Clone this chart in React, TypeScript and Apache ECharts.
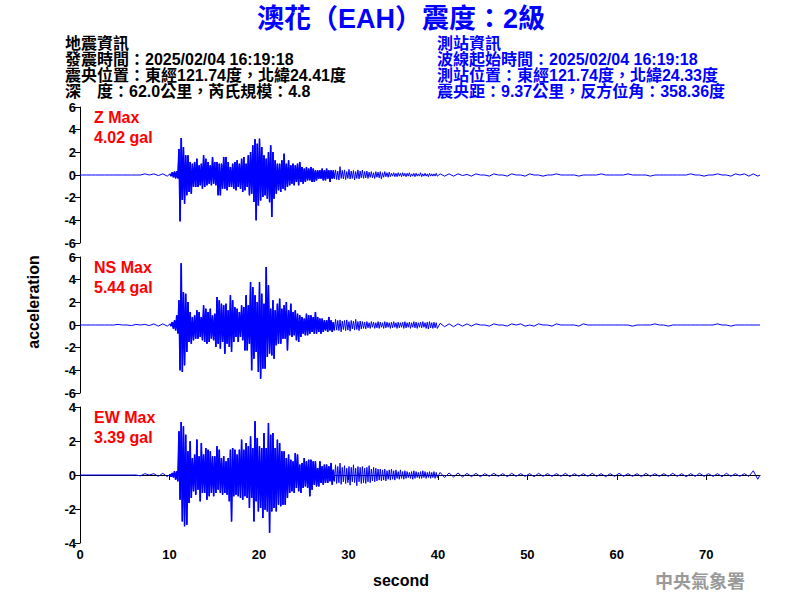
import React, { useEffect, useRef } from "react";
import * as echarts from "echarts";

// ---- axis / tick data ----
const X_MAX = 76;
const xTicks = [0, 10, 20, 30, 40, 50, 60, 70];
const PRE_START = 0;
const PRE_STEP = 1;
const MAIN_START = 10;
const MAIN_STEP = 0.25;
const MID_START = 28.5;
const MID_STEP = 0.25;
const TAIL_START = 40;
const TAIL_STEP = 1;

// ---- texts ----
const titleText = "澳花（EAH）震度：2級";
const quakeInfo = [
  "地震資訊",
  "發震時間：2025/02/04 16:19:18",
  "震央位置：東經121.74度，北緯24.41度",
  "深　度：62.0公里，芮氏規模：4.8",
];
const stationInfo = [
  "測站資訊",
  "波線起始時間：2025/02/04 16:19:18",
  "測站位置：東經121.74度，北緯24.33度",
  "震央距：9.37公里，反方位角：358.36度",
];
const channelNames = ["Z Max", "NS Max", "EW Max"];
const channelMax = ["4.02 gal", "5.44 gal", "3.39 gal"];

// ---- Z component (gal): max / min per time bin ----
const zPreHi = [0, 0, 0, 0, 0, 0, 0, 0.1, 0.1, 0.1];
const zPreLo = [0, 0, 0, 0, 0, 0, 0, 0, -0.05, -0.1];
const zHi = [0.1, 0.25, 0.3, 0.35, 2.3, 3.26, 2.47, 1.74, 1.74, 1.15, 1.0, 1.15, 1.44, 0.85, 1.0, 1.74, 1.44, 1.15, 0.85, 1.59, 1.15, 1.15, 1.0, 1.0, 1.59, 1.59, 1.15, 0.71, 1.0, 1.15, 1.29, 1.0, 1.44, 1.59, 1.0, 1.74, 2.03, 2.62, 3.15, 2.76, 3.2, 2.47, 1.74, 1.44, 2.03, 2.62, 2.03, 1.29, 1.0, 1.0, 1.29, 1.88, 1.0, 1.29, 0.85, 1.0, 0.85, 1.0, 1.15, 0.71, 0.56, 0.71, 0.56, 0.71, 0.56, 0.41, 0.41, 0.41, 0.56, 0.41, 0.56, 0.41, 0.41, 0.41];
const zLo = [-0.1, -0.2, -0.3, -0.3, -4.09, -2.2, -2.53, -1.79, -1.5, -1.65, -1.06, -1.06, -1.06, -0.91, -1.21, -1.06, -0.91, -0.76, -0.91, -0.76, -0.91, -1.79, -1.79, -1.21, -1.21, -1.35, -1.06, -1.06, -1.21, -1.35, -1.06, -1.21, -1.5, -1.35, -1.06, -1.79, -1.65, -2.38, -4.0, -2.68, -2.24, -1.94, -1.79, -2.09, -2.4, -3.71, -2.09, -1.65, -1.35, -1.5, -1.21, -1.35, -1.06, -0.91, -0.76, -0.91, -0.62, -0.91, -0.62, -0.76, -0.62, -0.47, -0.47, -0.62, -0.62, -0.47, -0.32, -0.32, -0.47, -0.47, -0.32, -0.62, -0.32, -0.32];
const zMidHi = [0.45, 0.35, 0.74, 0.4, 0.45, 0.3, 0.5, 0.35, 0.4, 0.3, 0.45, 0.35, 0.44, 0.3, 0.35, 0.25, 0.3, 0.2, 0.3, 0.25, 0.3, 0.2, 0.3, 0.2, 0.25, 0.15, 0.2, 0.15, 0.2, 0.15, 0.2, 0.15, 0.15, 0.2, 0.1, 0.15, 0.15, 0.1, 0.2, 0.1, 0.15, 0.1, 0.15, 0.1, 0.1, 0.15];
const zMidLo = [-0.4, -0.44, -0.3, -0.35, -0.4, -0.3, -0.35, -0.3, -0.44, -0.3, -0.35, -0.25, -0.3, -0.25, -0.3, -0.2, -0.25, -0.3, -0.2, -0.25, -0.35, -0.2, -0.15, -0.2, -0.15, -0.1, -0.15, -0.15, -0.1, -0.15, -0.1, -0.15, -0.1, -0.15, -0.1, -0.15, -0.1, -0.1, -0.15, -0.1, -0.1, -0.15, -0.1, -0.1, -0.1, -0.1];
const zTailHi = [0.1, 0.1, 0.1, 0.05, 0.1, 0, 0.1, 0, 0.1, 0, 0.1, 0, 0, 0.1, 0, 0, 0, 0, 0.1, 0, 0, 0.1, 0, 0, 0, 0, 0, 0, 0.1, 0, 0, 0.1, 0, 0.1, 0.1, 0.1];
const zTailLo = [-0.1, -0.1, -0.05, -0.1, 0, -0.1, 0, -0.1, 0, -0.1, 0, -0.1, 0, 0, 0, -0.1, 0, 0, 0, 0, 0, 0, 0, -0.1, 0, 0, 0, 0, 0, -0.1, 0, 0, -0.1, 0, -0.1, -0.1];

// ---- NS component ----
const nsPreHi = [0, 0, 0, 0, 0.05, 0, 0.05, 0.05, 0.1, 0.1];
const nsPreLo = [0, 0, 0, 0, 0, -0.05, 0, -0.05, -0.1, -0.1];
const nsHi = [0.1, 0.26, 0.41, 0.85, 2.18, 5.44, 2.91, 2.76, 2.03, 1.15, 0.71, 0.85, 1.29, 1.15, 0.71, 1.74, 1.44, 1.15, 1.44, 0.85, 1.0, 2.47, 2.18, 1.88, 1.74, 1.88, 1.29, 2.62, 2.18, 1.59, 1.44, 1.15, 1.74, 1.59, 2.62, 1.74, 3.79, 3.35, 2.62, 2.03, 3.79, 2.76, 1.88, 5.12, 3.5, 1.44, 2.18, 1.29, 1.88, 2.32, 1.44, 1.74, 2.03, 1.29, 1.88, 1.15, 1.29, 1.0, 0.85, 0.71, 0.56, 1.0, 0.85, 0.85, 0.71, 1.15, 0.71, 0.56, 0.56, 0.41, 0.41, 0.71, 0.41, 0.26];
const nsLo = [-0.1, -0.32, -0.47, -0.75, -4.0, -4.15, -3.56, -2.38, -1.5, -1.65, -1.35, -1.21, -1.21, -1.06, -1.35, -1.5, -1.65, -1.5, -1.21, -1.35, -1.94, -1.65, -2.09, -1.5, -2.53, -1.65, -1.94, -2.38, -1.5, -1.06, -1.5, -1.06, -1.35, -2.24, -2.24, -1.65, -4.0, -2.97, -2.38, -4.15, -4.74, -3.85, -3.85, -2.82, -2.53, -2.68, -2.97, -1.79, -1.65, -1.65, -1.21, -1.21, -2.24, -0.91, -1.06, -0.91, -1.35, -1.5, -1.06, -0.76, -0.91, -0.91, -0.76, -0.62, -0.76, -0.76, -0.62, -0.76, -0.62, -0.47, -0.62, -0.47, -0.62, -0.47];
const nsMidHi = [0.5, 0.4, 0.45, 0.35, 0.4, 0.45, 0.3, 0.4, 0.35, 0.5, 0.3, 0.35, 0.3, 0.25, 0.3, 0.2, 0.3, 0.25, 0.2, 0.3, 0.25, 0.2, 0.3, 0.25, 0.2, 0.25, 0.3, 0.2, 0.25, 0.2, 0.25, 0.3, 0.2, 0.25, 0.2, 0.3, 0.25, 0.2, 0.25, 0.3, 0.2, 0.25, 0.3, 0.2, 0.25, 0.2];
const nsMidLo = [-0.45, -0.5, -0.6, -0.4, -0.5, -0.45, -0.55, -0.35, -0.45, -0.4, -0.5, -0.35, -0.3, -0.35, -0.25, -0.3, -0.2, -0.3, -0.25, -0.3, -0.2, -0.3, -0.25, -0.2, -0.3, -0.25, -0.2, -0.3, -0.25, -0.2, -0.3, -0.25, -0.2, -0.3, -0.2, -0.25, -0.3, -0.2, -0.25, -0.2, -0.3, -0.35, -0.25, -0.3, -0.25, -0.3];
const nsTailHi = [0.15, 0.1, 0.1, 0.1, 0.1, 0, 0.1, 0, 0.1, 0.1, 0, 0.1, 0, 0.1, 0, 0, 0.1, 0, 0, 0, 0, 0, 0, 0, 0.1, 0, 0, 0, 0, 0, 0, 0.1, 0, 0, 0, 0];
const nsTailLo = [-0.15, -0.15, -0.1, -0.1, 0, -0.1, 0, -0.1, 0, -0.1, -0.1, 0, -0.1, 0, 0, -0.1, 0, 0, 0, 0, 0, -0.1, 0, 0, 0, -0.1, 0, 0, 0, 0, 0, 0, -0.1, 0, 0, 0];

// ---- EW component ----
const ewPreHi = [0, 0, 0, 0, 0, 0, 0, 0.08, 0.08, 0.1];
const ewPreLo = [0, 0, 0, 0, 0, 0, -0.05, 0, -0.08, -0.1];
const ewHi = [0.06, 0.12, 0.22, 0.22, 2.57, 3.12, 2.86, 2.37, 1.39, 1.98, 1.0, 1.2, 2.08, 1.1, 1.88, 1.2, 1.59, 1.49, 1.39, 1.1, 1.1, 1.69, 1.49, 1.0, 1.1, 0.8, 1.0, 1.49, 1.59, 1.49, 1.2, 1.49, 2.08, 1.49, 1.88, 1.69, 2.27, 1.59, 3.16, 2.18, 1.69, 1.59, 2.47, 1.59, 3.06, 2.37, 2.47, 1.59, 2.08, 1.88, 1.39, 1.39, 1.0, 1.2, 0.9, 0.8, 1.29, 1.2, 0.61, 0.71, 1.0, 0.8, 0.9, 0.9, 0.8, 0.8, 0.41, 0.8, 0.51, 0.61, 0.61, 0.51, 0.71, 0.31];
const ewLo = [-0.1, -0.14, -0.27, -0.37, -1.45, -2.73, -3.02, -2.92, -1.65, -1.35, -0.96, -1.16, -0.86, -1.55, -1.06, -1.06, -1.45, -1.25, -1.06, -1.25, -1.06, -0.86, -1.06, -1.16, -1.06, -1.16, -1.55, -2.73, -1.25, -1.16, -1.25, -1.35, -1.45, -1.25, -1.35, -1.94, -1.35, -2.73, -1.55, -2.14, -1.94, -2.53, -2.04, -2.14, -3.39, -2.14, -1.94, -2.14, -1.75, -1.84, -1.75, -1.75, -1.35, -1.06, -0.96, -1.06, -0.76, -0.96, -1.06, -0.76, -0.67, -0.76, -1.25, -0.86, -0.57, -0.67, -0.67, -0.47, -0.57, -0.47, -0.47, -0.37, -0.57, -0.37];
const ewMidHi = [0.6, 0.5, 0.7, 0.45, 0.55, 0.4, 0.5, 0.45, 0.6, 0.4, 0.5, 0.45, 0.5, 0.4, 0.45, 0.55, 0.35, 0.45, 0.4, 0.35, 0.35, 0.3, 0.35, 0.25, 0.3, 0.35, 0.25, 0.3, 0.2, 0.3, 0.2, 0.25, 0.2, 0.15, 0.2, 0.25, 0.2, 0.15, 0.2, 0.25, 0.2, 0.15, 0.2, 0.15, 0.2, 0.15];
const ewMidLo = [-0.5, -0.45, -0.55, -0.4, -0.5, -0.45, -0.6, -0.4, -0.45, -0.63, -0.4, -0.5, -0.45, -0.5, -0.4, -0.45, -0.35, -0.4, -0.35, -0.3, -0.35, -0.3, -0.35, -0.25, -0.3, -0.25, -0.3, -0.2, -0.25, -0.2, -0.25, -0.2, -0.15, -0.2, -0.25, -0.2, -0.15, -0.2, -0.2, -0.15, -0.2, -0.15, -0.2, -0.15, -0.2, -0.15];
const ewTailHi = [0.15, 0.12, 0.12, 0.1, 0.1, 0.08, 0.1, 0.08, 0.1, 0.08, 0.08, 0.1, 0.08, 0.08, 0.1, 0.08, 0.08, 0.1, 0.08, 0.08, 0.1, 0.08, 0.08, 0.1, 0.08, 0.08, 0.1, 0.08, 0.08, 0.1, 0.08, 0.08, 0.1, 0.08, 0.08, 0.25];
const ewTailLo = [-0.15, -0.12, -0.12, -0.1, -0.1, -0.08, -0.08, -0.1, -0.08, -0.08, -0.1, -0.08, -0.08, -0.08, -0.1, -0.08, -0.08, -0.08, -0.1, -0.08, -0.08, -0.08, -0.1, -0.08, -0.08, -0.08, -0.08, -0.1, -0.08, -0.08, -0.08, -0.1, -0.08, -0.08, -0.08, -0.25];

const yRanges = [6, 6, 4];

type Seg = { start: number; step: number; hi: number[]; lo: number[] };

function buildTrace(segs: Seg[], withEnds: boolean): number[][] {
  const pts: number[][] = withEnds ? [[0, 0]] : [];
  segs.forEach((s) => {
    for (let i = 0; i < s.hi.length; i++) {
      const t0 = s.start + i * s.step;
      pts.push([t0 + s.step * 0.25, s.hi[i]]);
      pts.push([t0 + s.step * 0.75, s.lo[i]]);
    }
  });
  if (withEnds) pts.push([X_MAX, 0]);
  return pts;
}

const FONT = "'Liberation Sans', Arial, 'Noto Sans CJK TC', sans-serif";
const BLUE = "#0000ff";

export default function App() {
  const ref = useRef<HTMLDivElement>(null);
  useEffect(() => {
    if (!ref.current) return;
    const chart = echarts.init(ref.current, undefined, { renderer: "svg" });
    const channels = [
      [zPreHi, zPreLo, zHi, zLo, zMidHi, zMidLo, zTailHi, zTailLo],
      [nsPreHi, nsPreLo, nsHi, nsLo, nsMidHi, nsMidLo, nsTailHi, nsTailLo],
      [ewPreHi, ewPreLo, ewHi, ewLo, ewMidHi, ewMidLo, ewTailHi, ewTailLo],
    ];
    const full = channels.map((c) =>
      buildTrace(
        [
          { start: PRE_START, step: PRE_STEP, hi: c[0], lo: c[1] },
          { start: MAIN_START, step: MAIN_STEP, hi: c[2], lo: c[3] },
          { start: MID_START, step: MID_STEP, hi: c[4], lo: c[5] },
          { start: TAIL_START, step: TAIL_STEP, hi: c[6], lo: c[7] },
        ],
        true
      )
    );
    const strong = channels.map((c) =>
      buildTrace([{ start: MAIN_START, step: MAIN_STEP, hi: c[2], lo: c[3] }], false)
    );
    const tops = [107, 257, 407];
    const grids = tops.map((top) => ({ left: 80, right: 40, top, height: 136, containLabel: false }));
    const xAxes = tops.map((_, i) => ({
      type: "value" as const,
      gridIndex: i,
      min: 0,
      max: X_MAX,
      show: i === 2,
      axisLine: { show: true, lineStyle: { color: "#000", width: 1 } },
      axisTick: { show: true, length: 5, customValues: xTicks, lineStyle: { color: "#000" } },
      axisLabel: {
        customValues: xTicks,
        color: "#000",
        fontWeight: "bold" as const,
        fontSize: 13,
        fontFamily: FONT,
        margin: 5,
      },
      splitLine: { show: false },
    }));
    const yAxes = yRanges.map((r, i) => ({
      type: "value" as const,
      gridIndex: i,
      min: -r,
      max: r,
      interval: 2,
      axisLine: { show: true, lineStyle: { color: "#000", width: 1 } },
      axisTick: { show: true, length: 5, lineStyle: { color: "#000" } },
      axisLabel: { color: "#000", fontWeight: "bold" as const, fontSize: 13, fontFamily: FONT, margin: 4 },
      splitLine: { show: false },
    }));
    const series: any[] = [];
    full.forEach((d, i) =>
      series.push({
        type: "line",
        xAxisIndex: i,
        yAxisIndex: i,
        data: d,
        symbol: "none",
        lineStyle: { color: BLUE, width: 1 },
        itemStyle: { color: BLUE },
        silent: true,
      })
    );
    strong.forEach((d, i) =>
      series.push({
        type: "line",
        xAxisIndex: i,
        yAxisIndex: i,
        data: d,
        symbol: "none",
        lineStyle: { color: BLUE, width: 1.6 },
        itemStyle: { color: BLUE },
        silent: true,
      })
    );

    const infoStyle = (color: string) => ({
      fill: color,
      fontSize: 16,
      fontWeight: "bold",
      fontFamily: FONT,
      align: "left",
      verticalAlign: "middle",
    });
    const graphics: any[] = [
      {
        type: "text",
        style: {
          text: titleText,
          x: 401,
          y: 19,
          fill: BLUE,
          fontSize: 27,
          fontWeight: "bold",
          fontFamily: FONT,
          align: "center",
          verticalAlign: "middle",
        },
      },
    ];
    quakeInfo.forEach((t, i) =>
      graphics.push({ type: "text", style: { text: t, x: 65, y: 43 + i * 16, ...infoStyle("#000") } })
    );
    stationInfo.forEach((t, i) =>
      graphics.push({ type: "text", style: { text: t, x: 437, y: 43 + i * 16, ...infoStyle(BLUE) } })
    );
    tops.forEach((top, i) => {
      graphics.push({
        type: "text",
        style: { text: channelNames[i], x: 94, y: top + 10, fill: "#ff0000", fontSize: 16, fontWeight: "bold", fontFamily: FONT, align: "left", verticalAlign: "middle" },
      });
      graphics.push({
        type: "text",
        style: { text: channelMax[i], x: 94, y: top + 30, fill: "#ff0000", fontSize: 16, fontWeight: "bold", fontFamily: FONT, align: "left", verticalAlign: "middle" },
      });
    });
    graphics.push({
      type: "text",
      x: 33,
      y: 302,
      rotation: Math.PI / 2,
      style: { text: "acceleration", x: 0, y: 0, fill: "#000", fontSize: 16, fontWeight: "bold", fontFamily: FONT, align: "center", verticalAlign: "middle" },
    });
    graphics.push({
      type: "text",
      style: { text: "second", x: 401, y: 580, fill: "#000", fontSize: 16, fontWeight: "bold", fontFamily: FONT, align: "center", verticalAlign: "middle" },
    });
    graphics.push({
      type: "text",
      style: { text: "中央氣象署", x: 700, y: 580, fill: "#999", fontSize: 18, fontWeight: "bold", fontFamily: "'Noto Sans CJK TC', sans-serif", align: "center", verticalAlign: "middle" },
    });

    chart.setOption({
      animation: false,
      backgroundColor: "#fff",
      grid: grids,
      xAxis: xAxes,
      yAxis: yAxes,
      series,
      graphic: graphics,
    });
    return () => chart.dispose();
  }, []);
  return <div ref={ref} style={{ width: 800, height: 600, position: "absolute", left: 0, top: 0 }} />;
}
